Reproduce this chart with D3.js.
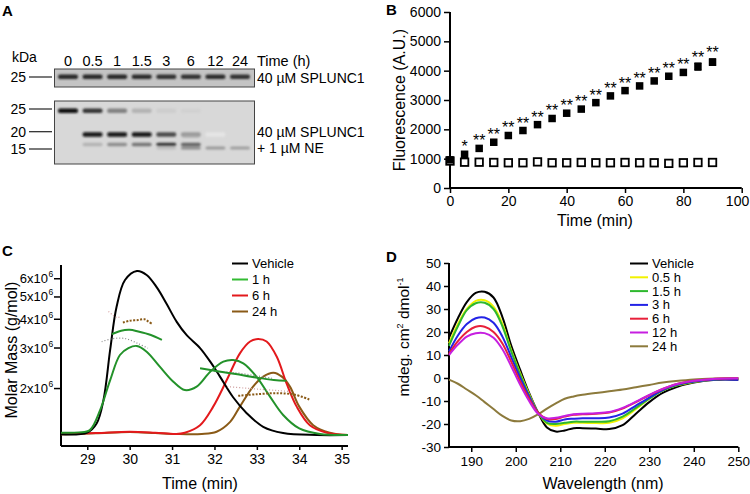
<!DOCTYPE html>
<html><head><meta charset="utf-8">
<script src="https://cdn.jsdelivr.net/npm/d3@7"></script>
<style>body{margin:0;background:#fff} svg{display:block;font-family:"Liberation Sans",Arial,sans-serif}</style>
</head><body><svg id="c" width="750" height="494"></svg>
<script>
// ---------- Panel A data (gel) ----------
const gelLanes = ["0","0.5","1","1.5","3","6","12","24"];
const gelTopBand = [0.88,0.88,0.88,0.86,0.84,0.84,0.86,0.84];
const gelBand25 = [0.97,0.8,0.5,0.3,0.18,0.16,0,0];
const gelBand20 = [0.12,0.92,0.92,0.92,0.72,0.4,0.04,0];
const gelBand18 = [0,0,0,0,0,0.35,0,0];
const gelBand17 = [0,0.3,0.45,0.55,0.8,0.62,0,0];
const gelBand15 = [0,0,0,0,0.25,0.45,0.4,0.38];
const gelMarkersBottom = [25,20,15];
const gelMarkersTop = [25];

// ---------- Panel B data ----------
const bTime = [0,5,10,15,20,25,30,35,40,45,50,55,60,65,70,75,80,85,90];
const bNE = [960,1150,1350,1560,1790,1960,2160,2370,2550,2690,2910,3140,3320,3480,3650,3810,3940,4140,4290];
const bNEerr = [0,0,0,0,0,0,0,0,0,0,0,0,0,0,0,0,0,120,110];
const bVehicle = [920,880,880,870,860,860,890,860,860,870,860,860,870,860,860,840,860,870,870];
const bStars = ["","*","**","**","**","**","**","**","**","**","**","**","**","**","**","**","**","**","**"];
const bXTicks = [0,20,40,60,80,100];
const bYTicks = [0,1000,2000,3000,4000,5000,6000];

// ---------- Panel C data ----------
const cVehicle = [[28.38,0.4],[29.0,1.5],[29.22,7],[29.38,21],[29.54,52],[29.69,78],[29.89,94.5],[30.17,100],[30.4,97.6],[30.64,90],[30.87,80],[31.11,69],[31.34,61],[31.66,53],[31.9,44.7],[32.13,35.6],[32.44,23],[32.76,13.3],[33.15,5],[33.62,1.2],[34.41,0],[35.15,0]];
const c1h = [[28.38,1.4],[28.8,1.6],[29.06,3],[29.3,15],[29.54,33.5],[29.77,48.8],[29.97,53],[30.17,54.3],[30.4,50.8],[30.71,41.7],[31.03,32.5],[31.3,27.4],[31.58,29.5],[31.9,38.6],[32.21,44.7],[32.44,45.7],[32.68,43.7],[32.99,35.6],[33.31,23.4],[33.62,12.2],[34.0,4],[34.49,0.6],[35.15,0]];
const c6h = [[28.38,0.8],[29.2,1.2],[30.0,2],[30.6,1.4],[31.1,0.6],[31.3,1.4],[31.66,6],[31.97,17.3],[32.29,33.5],[32.6,49.8],[32.84,57],[33.03,58.5],[33.23,57],[33.47,47.7],[33.7,31.5],[33.94,17.3],[34.25,6],[34.65,1.4],[35.15,0]];
const c24h = [[28.38,0.3],[29.2,1],[30.0,1.8],[30.6,1.2],[31.1,0.6],[31.7,0.6],[32.05,2],[32.37,8],[32.6,17.3],[32.91,29.5],[33.15,35.6],[33.39,38],[33.59,35.6],[33.78,29.5],[34.0,17.3],[34.33,6],[34.72,1.4],[35.15,0]];
const cMassGreenHi = [[29.58,3.43],[29.8,3.55],[30.0,3.58],[30.2,3.52],[30.5,3.4],[30.76,3.24]];
const cMassBrownHi = [[29.84,3.85],[30.0,3.92],[30.2,3.95],[30.35,3.98],[30.45,3.88],[30.53,3.8]];
const cMassGrayHi = [[29.34,3.18],[29.6,3.28],[29.9,3.28],[30.2,3.12],[30.43,2.98]];
const cMassPinkHi = [[29.5,4.3],[29.6,4.15],[29.7,4.05],[29.8,4.1]];
const cMassGreenLo = [[31.66,2.44],[32.0,2.38],[32.5,2.3],[33.0,2.22],[33.4,2.17],[33.7,2.15]];
const cMassGrayLo = [[32.0,2.36],[32.5,2.33],[33.0,2.26],[33.4,2.2]];
const cMassPinkLo = [[32.3,2.03],[32.7,2.0],[33.0,1.98],[33.5,1.95],[33.85,1.93]];
const cMassBrownLo = [[32.56,1.85],[33.0,1.88],[33.5,1.9],[33.9,1.87],[34.25,1.78]];
const cXTicks = [29,30,31,32,33,34,35];
const cYTicks = [2e6,3e6,4e6,5e6,6e6];
const cLegend = ["Vehicle","1 h","6 h","24 h"];

// ---------- Panel D data ----------
const dWave = [185,187,189,191,193,195,197,199,201,203,205,207,209,211,213,215,218,221,224,227,230,233,236,240,245,250];
const dVehicle = [17.5,26,33,37,37.5,35,26.5,14,3.5,-6.5,-15,-21.5,-23.3,-22.8,-21.8,-21.8,-22,-22.2,-20.5,-15.5,-10.5,-6.5,-4,-2,-0.8,-0.8];
const d05h = [15,23.5,30,33.5,33.8,31,23.5,12,2,-7,-15,-19.8,-20.8,-20,-19.5,-19.5,-19.6,-19.5,-17.5,-13.5,-9,-5.5,-3.3,-1.7,-0.5,-0.3];
const d15h = [14,22.5,29.5,32.5,32.7,30,22.5,11.5,1.5,-7.5,-15,-19.5,-20,-19.5,-19,-19,-19,-18.8,-16.8,-13,-9,-5.5,-3.3,-1.6,-0.5,-0.3];
const d3h = [11.5,18.5,23.5,26,26.3,24,18,9,0,-8,-15,-18.5,-19,-18,-17.7,-17.5,-17.5,-17.2,-15.5,-12,-8.5,-5.3,-3,-1.5,-0.6,-0.8];
const d6h = [10.5,16,20,22.3,22.3,20,15,7,-1.5,-9,-15,-17.8,-17.8,-16.8,-16,-15.8,-15.5,-15,-13.3,-10.5,-7.5,-4.8,-2.7,-1.2,-0.3,-0.1];
const d12h = [10,14.5,18,19.5,19.5,17.5,12.5,5,-3,-10,-15.5,-17.5,-17.3,-16.5,-15.8,-15.5,-15.3,-14.8,-13,-10.3,-7.3,-4.7,-2.7,-1.2,-0.3,-0.1];
const d24h = [-0.7,-2.5,-5,-7.5,-10.5,-13.5,-16.5,-18.5,-18.8,-17.8,-15.8,-13.3,-11,-9,-8,-7.3,-6.5,-5.8,-5,-4,-3,-2,-1.3,-0.6,-0.2,0];
const dLegend = ["Vehicle","0.5 h","1.5 h","3 h","6 h","12 h","24 h"];
const dXTicks = [190,200,210,220,230,240,250];
const dYTicks = [-30,-20,-10,0,10,20,30,40,50];

// ================= drawing =================
const svg = d3.select("#c");
const defs = svg.append("defs");
defs.append("filter").attr("id","blur").attr("x","-20%").attr("y","-100%").attr("width","140%").attr("height","300%")
  .append("feGaussianBlur").attr("stdDeviation","0.9");

function panelLabel(t,x,y){svg.append("text").attr("x",x).attr("y",y).attr("font-size",15).attr("font-weight","bold").text(t);}
panelLabel("A",2,16); panelLabel("B",386,15); panelLabel("C",2,256); panelLabel("D",386,262);

function styleAxis(g,fs){
  g.selectAll("path.domain").attr("stroke","#000").attr("stroke-width",2);
  g.selectAll(".tick line").attr("stroke","#000").attr("stroke-width",1.5);
  g.selectAll(".tick text").attr("font-size",fs).attr("fill","#000").attr("font-family","Liberation Sans, Arial, sans-serif");
}

// ---------- Panel A ----------
(function(){
  const lx = d3.scalePoint().domain(gelLanes).range([68,240]);
  const kdaB = d3.scaleLinear().domain([15,20,25]).range([149,131.7,109]);
  const gA = svg.append("g");
  gA.append("text").attr("x",12).attr("y",62).attr("font-size",14).text("kDa");
  gA.selectAll("text.lane").data(gelLanes).join("text").attr("class","lane")
    .attr("x",(d)=>lx(d)).attr("y",66).attr("text-anchor","middle").attr("font-size",14.5).text(d=>d);
  gA.append("text").attr("x",257).attr("y",66).attr("font-size",14.5).text("Time (h)");
  // top gel
  gA.append("rect").attr("x",54.5).attr("y",69).attr("width",200).attr("height",18).attr("fill","#c4c4c4").attr("stroke","#444").attr("stroke-width",1);
  const bands = gA.append("g").attr("filter","url(#blur)");
  bands.selectAll("rect.t").data(gelTopBand).join("rect")
    .attr("x",(d,i)=>lx(gelLanes[i])-10).attr("y",74.5).attr("width",20).attr("height",4.5).attr("rx",2)
    .attr("fill",d=>d3.interpolateGreys(d));
  gelMarkersTop.forEach(k=>{
    gA.append("line").attr("x1",29).attr("x2",52).attr("y1",77).attr("y2",77).attr("stroke","#222").attr("stroke-width",1.2);
    gA.append("text").attr("x",26).attr("y",82).attr("text-anchor","end").attr("font-size",14).text(k);
  });
  gA.append("text").attr("x",257).attr("y",83).attr("font-size",14).text("40 µM SPLUNC1");
  // bottom gel
  gA.append("rect").attr("x",54.5).attr("y",101).attr("width",200).attr("height",63).attr("fill","#d8d8d8").attr("stroke","#444").attr("stroke-width",1);
  const bb = gA.append("g").attr("filter","url(#blur)");
  function bandRow(arr,kda,h,w){
    bb.selectAll(null).data(arr).join("rect")
      .attr("x",(d,i)=>lx(gelLanes[i])-w/2).attr("y",kdaB(kda)-h/2).attr("width",w).attr("height",h).attr("rx",2)
      .attr("fill",d=>d3.interpolateGreys(0.15+0.85*d)).attr("opacity",d=>d>0?1:0);
  }
  bandRow(gelBand25,24.6,4.5,20);
  bandRow(gelBand20,19.2,4.5,20);
  bandRow(gelBand18,18.6,2,18);
  bandRow(gelBand17,16.3,3.5,20);
  bandRow(gelBand15,15.3,3,20);
  gelMarkersBottom.forEach(k=>{
    gA.append("line").attr("x1",29).attr("x2",52).attr("y1",kdaB(k)).attr("y2",kdaB(k)).attr("stroke","#222").attr("stroke-width",1.2);
    gA.append("text").attr("x",26).attr("y",kdaB(k)+5).attr("text-anchor","end").attr("font-size",14).text(k);
  });
  gA.append("text").attr("x",257).attr("y",137).attr("font-size",14).text("40 µM SPLUNC1");
  gA.append("text").attr("x",257).attr("y",153).attr("font-size",14).text("+ 1 µM NE");
})();

// ---------- Panel B ----------
(function(){
  const x = d3.scaleLinear().domain([0,100]).range([450,741.7]);
  const y = d3.scaleLinear().domain([0,6000]).range([188,12]);
  const gx = svg.append("g").attr("transform","translate(0,188)")
    .call(d3.axisBottom(x).tickValues(bXTicks).tickSize(5).tickPadding(3).tickFormat(d3.format("d")));
  styleAxis(gx,14);
  gx.selectAll(".tick text").filter(d=>d===100).attr("text-anchor","end").attr("x",7);
  const gy = svg.append("g").attr("transform","translate(450,0)")
    .call(d3.axisLeft(y).tickValues(bYTicks).tickSize(6).tickPadding(3).tickFormat(d3.format("d")));
  styleAxis(gy,14);
  gx.select("path.domain").attr("d","M450,0H741.7");
  gy.select("path.domain").attr("d","M0,12V188");
  svg.append("text").attr("x",595).attr("y",226).attr("text-anchor","middle").attr("font-size",16).text("Time (min)");
  svg.append("text").attr("transform","translate(405,100) rotate(-90)").attr("text-anchor","middle").attr("font-size",16).text("Fluorescence (A.U.)");
  const s = 7.5;
  svg.selectAll("rect.open").data(bTime).join("rect").attr("class","open")
    .attr("x",(d)=>x(d)-s/2).attr("y",(d,i)=>y(bVehicle[i])-s/2).attr("width",s).attr("height",s)
    .attr("fill","#fff").attr("stroke","#000").attr("stroke-width",1.8);
  bTime.forEach((t,i)=>{
    if(bNEerr[i]>0){
      const cx=x(t);
      svg.append("path").attr("d",`M${cx-3.5},${y(bNE[i]+bNEerr[i])}H${cx+3.5}M${cx},${y(bNE[i]+bNEerr[i])}V${y(bNE[i]-bNEerr[i])}M${cx-3.5},${y(bNE[i]-bNEerr[i])}H${cx+3.5}`)
        .attr("stroke","#000").attr("stroke-width",1.3).attr("fill","none");
    }
  });
  svg.selectAll("rect.fill").data(bTime).join("rect").attr("class","fill")
    .attr("x",(d)=>x(d)-s/2).attr("y",(d,i)=>y(bNE[i])-s/2).attr("width",s).attr("height",s).attr("fill","#000");
  svg.selectAll("text.star").data(bTime).join("text").attr("class","star")
    .attr("x",d=>x(d)).attr("y",(d,i)=>y(bNE[i])-2-(bNEerr[i]>0?2:0)).attr("text-anchor","middle").attr("font-size",16)
    .text((d,i)=>bStars[i]);
})();

// ---------- Panel C ----------
(function(){
  const x = d3.scaleLinear().domain([28.38,35.15]).range([61,348]);
  const y = d3.scaleLog().domain([1.12e6,6.85e6]).range([446,265]);
  const sig = d3.scaleLinear().domain([0,100]).range([435,271]);
  const gx = svg.append("g").attr("transform","translate(0,446)")
    .call(d3.axisBottom(x).tickValues(cXTicks).tickSize(4).tickPadding(4).tickFormat(d3.format("d")));
  styleAxis(gx,14);
  const gy = svg.append("g").attr("transform","translate(61,0)")
    .call(d3.axisLeft(y).tickValues(cYTicks).tickSize(7).tickPadding(2).tickFormat(()=>""));
  styleAxis(gy,13.5);
  gy.selectAll(".tick").each(function(d){
    const t=d3.select(this);
    t.append("text").attr("x",-13).attr("y",4.5).attr("text-anchor","end").attr("font-size",13).attr("fill","#000").text((d/1e6)+"x10");
    t.append("text").attr("x",-12.5).attr("y",-1.5).attr("text-anchor","start").attr("font-size",8.5).attr("fill","#000").text("6");
  });
  gy.select("path.domain").attr("d","M0,265V446");
  gx.select("path.domain").attr("d","M61,0H348");
  svg.append("text").attr("x",200).attr("y",489).attr("text-anchor","middle").attr("font-size",16).text("Time (min)");
  svg.append("text").attr("transform","translate(17,350) rotate(-90)").attr("text-anchor","middle").attr("font-size",16).text("Molar Mass (g/mol)");
  const colors = {veh:"#000",g:"#23922a",r:"#e3191c",b:"#8a5a17"};
  const line = d3.line().x(d=>x(d[0])).y(d=>sig(d[1])).curve(d3.curveCatmullRom.alpha(0.5));
  [[c24h,colors.b],[c6h,colors.r],[cVehicle,colors.veh],[c1h,colors.g]].forEach(([dat,c])=>{
    svg.append("path").attr("d",line(dat)).attr("fill","none").attr("stroke",c).attr("stroke-width",2);
  });
  const mline = d3.line().x(d=>x(d[0])).y(d=>y(d[1]*1e6)).curve(d3.curveCatmullRom.alpha(0.5));
  svg.append("path").attr("d",mline(cMassGrayHi)).attr("fill","none").attr("stroke","#888").attr("stroke-width",1.2).attr("stroke-dasharray","1,2");
  svg.append("path").attr("d",mline(cMassPinkHi)).attr("fill","none").attr("stroke","#d8a0a0").attr("stroke-width",1.2).attr("stroke-dasharray","1,2");
  svg.append("path").attr("d",mline(cMassGreenHi)).attr("fill","none").attr("stroke",colors.g).attr("stroke-width",2);
  svg.append("path").attr("d",mline(cMassBrownHi)).attr("fill","none").attr("stroke",colors.b).attr("stroke-width",2).attr("stroke-dasharray","2,1.5");
  svg.append("path").attr("d",mline(cMassGrayLo)).attr("fill","none").attr("stroke","#888").attr("stroke-width",1.2).attr("stroke-dasharray","1,2");
  svg.append("path").attr("d",mline(cMassPinkLo)).attr("fill","none").attr("stroke","#cc9b9b").attr("stroke-width",1.2).attr("stroke-dasharray","1,2");
  svg.append("path").attr("d",mline(cMassGreenLo)).attr("fill","none").attr("stroke",colors.g).attr("stroke-width",2);
  svg.append("path").attr("d",mline(cMassBrownLo)).attr("fill","none").attr("stroke",colors.b).attr("stroke-width",2).attr("stroke-dasharray","2,1.5");
  const lc = [colors.veh,"#33bb33",colors.r,colors.b];
  cLegend.forEach((t,i)=>{
    const yy = 263.5+i*16;
    svg.append("line").attr("x1",232).attr("x2",248).attr("y1",yy).attr("y2",yy).attr("stroke",lc[i]).attr("stroke-width",2);
    svg.append("text").attr("x",252).attr("y",yy+4.5).attr("font-size",13).text(t);
  });
})();

// ---------- Panel D ----------
(function(){
  const x = d3.scaleLinear().domain([185,250]).range([449,738.3]);
  const y = d3.scaleLinear().domain([-30,50]).range([447,263]);
  const gx = svg.append("g").attr("transform","translate(0,447)")
    .call(d3.axisBottom(x).tickValues(dXTicks).tickSize(5).tickPadding(4).tickFormat(d=>String(d)));
  styleAxis(gx,13.5);
  const gy = svg.append("g").attr("transform","translate(449,0)")
    .call(d3.axisLeft(y).tickValues(dYTicks).tickSize(5).tickPadding(3).tickFormat(d=>String(d)));
  styleAxis(gy,13.5);
  gx.select("path.domain").attr("d","M449,0H738.3");
  gy.select("path.domain").attr("d","M0,263V447");
  svg.append("text").attr("x",603).attr("y",489).attr("text-anchor","middle").attr("font-size",16).text("Wavelength (nm)");
  const yl = svg.append("text").attr("transform","translate(409,337) rotate(-90)").attr("text-anchor","middle").attr("font-size",15.5);
  yl.append("tspan").text("mdeg. cm");
  yl.append("tspan").attr("dy",-6).attr("font-size",9).text("2");
  yl.append("tspan").attr("dy",6).text(" dmol");
  yl.append("tspan").attr("dy",-6).attr("font-size",9).text("-1");
  const cols = ["#000","#f2f200","#2eb82e","#2323e6","#e8203a","#c61fe0","#8c7a3c"];
  const series = [dVehicle,d05h,d15h,d3h,d6h,d12h,d24h];
  const line = d3.line().x((d,i)=>x(dWave[i])).y(d=>y(d)).curve(d3.curveCatmullRom.alpha(0.5));
  [6,0,1,2,3,4,5].forEach(k=>{
    svg.append("path").attr("d",line(series[k])).attr("fill","none").attr("stroke",cols[k]).attr("stroke-width",2);
  });
  dLegend.forEach((t,i)=>{
    const yy = 263.5+i*13.8;
    svg.append("line").attr("x1",630).attr("x2",648).attr("y1",yy).attr("y2",yy).attr("stroke",cols[i]).attr("stroke-width",2);
    svg.append("text").attr("x",652).attr("y",yy+4.5).attr("font-size",13).text(t);
  });
})();
</script></body></html>
